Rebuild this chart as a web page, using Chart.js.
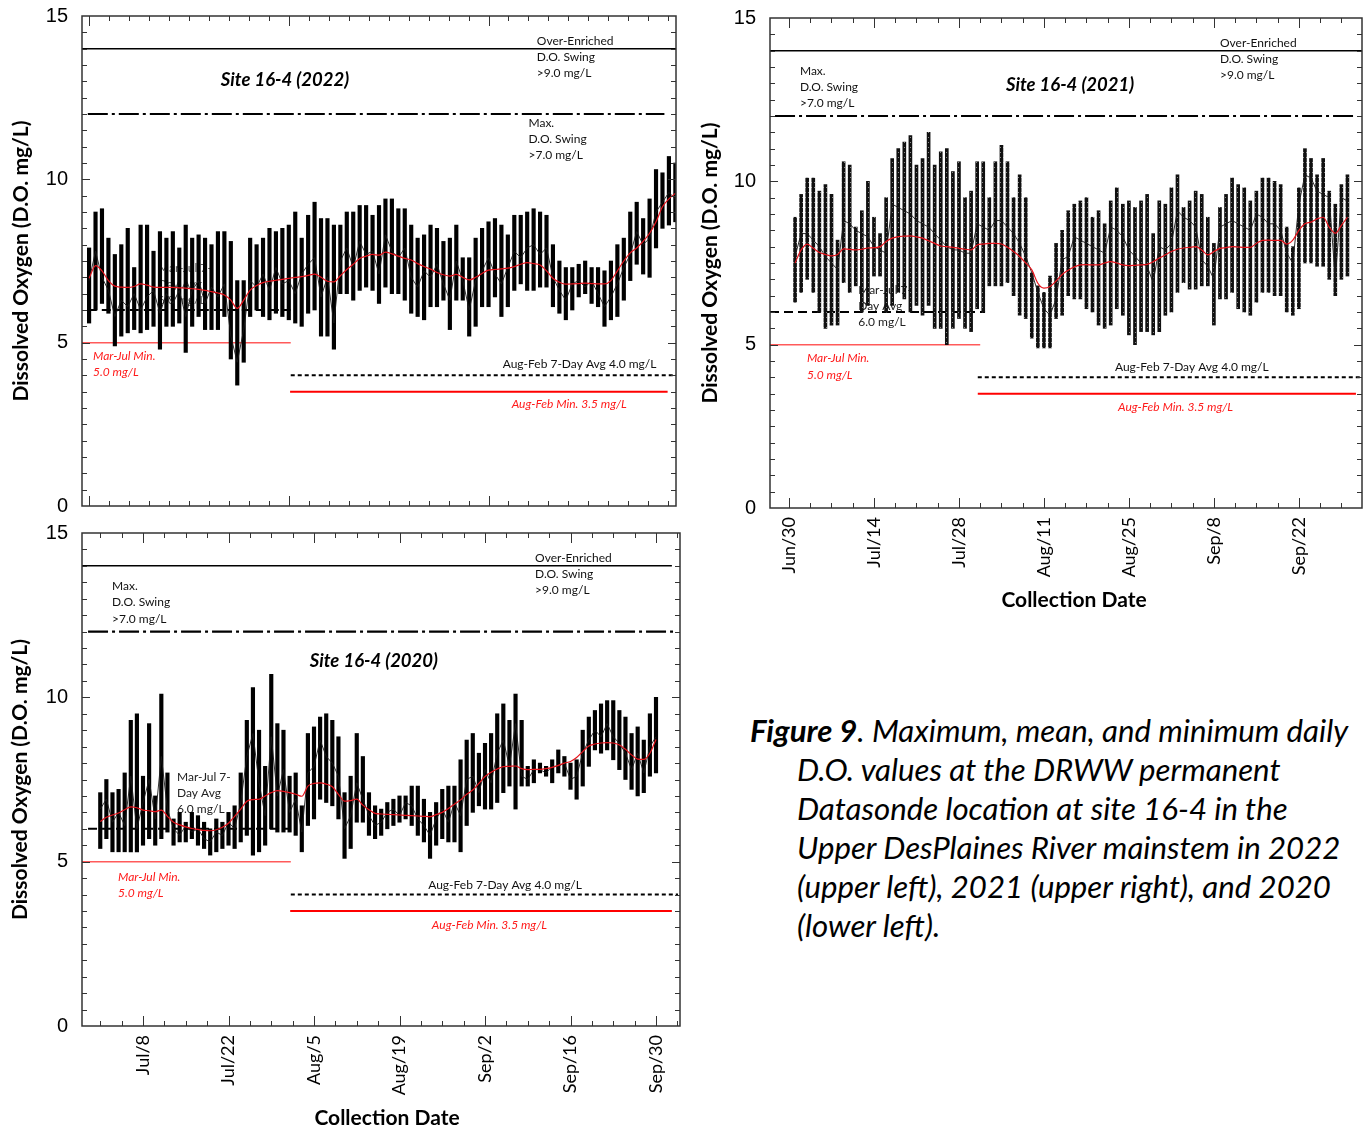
<!DOCTYPE html>
<html>
<head>
<meta charset="utf-8">
<title>Site 16-4 dissolved oxygen</title>
<script src="https://cdn.jsdelivr.net/npm/chart.js@4.4.0/dist/chart.umd.min.js"></script>
<style>
  html, body { margin: 0; padding: 0; background: #fff; }
  body { width: 1369px; height: 1129px; position: relative; overflow: hidden; }
  canvas.panel { position: absolute; }
  #caption {
    position: absolute; left: 750px; top: 711px;
    font-family: Lato, "Open Sans", sans-serif; font-style: italic;
    font-size: 31.2px; line-height: 39px; color: #000; white-space: nowrap;
  }
  #caption .ind { padding-left: 47px; }
</style>
</head>
<body>
<canvas id="c2022" class="panel" width="690" height="522" style="left:0;top:0"></canvas>
<canvas id="c2021" class="panel" width="679" height="620" style="left:690px;top:0"></canvas>
<canvas id="c2020" class="panel" width="690" height="611" style="left:0;top:518px"></canvas>
<div id="caption">
  <div><b>Figure 9</b>. Maximum, mean, and minimum daily</div>
  <div class="ind">D.O. values at the DRWW permanent</div>
  <div class="ind">Datasonde location at site 16-4 in the</div>
  <div class="ind">Upper DesPlaines River mainstem in 2022</div>
  <div class="ind">(upper left), 2021 (upper right), and 2020</div>
  <div class="ind">(lower left).</div>
</div>
<script>
// ---- Daily dissolved oxygen, Jul 1 - Sep 30 (mg/L) ----
const max2022 = [7.9, 9.0, 9.1, 8.2, 7.7, 8.0, 8.5, 7.3, 8.6, 8.6,
  7.8, 8.4, 8.2, 8.4, 7.9, 8.6, 8.2, 8.3, 8.2, 8.0,
  8.4, 8.4, 8.1, 6.9, 6.9, 8.2, 8.0, 8.2, 8.5, 8.4,
  8.5, 8.6, 9.0, 8.2, 8.9, 9.3, 8.8, 8.8, 8.6, 8.6,
  9.0, 9.0, 9.2, 9.2, 8.9, 9.2, 9.4, 9.4, 9.1, 9.1,
  8.6, 8.2, 8.3, 8.6, 8.5, 8.1, 8.2, 8.6, 7.6, 7.6,
  8.2, 8.5, 8.7, 8.8, 8.6, 8.3, 8.9, 8.9, 9.0, 9.1,
  9.0, 8.9, 8.0, 7.5, 7.3, 7.3, 7.4, 7.5, 7.3, 7.3,
  7.2, 7.5, 8.0, 8.2, 9.0, 9.3, 8.8, 9.4, 10.3, 10.2,
  10.7, 10.5];
const min2022 = [5.6, 6.0, 6.2, 5.9, 4.9, 5.2, 5.3, 5.4, 5.3, 5.4,
  5.5, 4.8, 5.5, 5.5, 5.6, 4.7, 5.5, 5.8, 5.4, 5.4,
  5.4, 5.8, 4.5, 3.7, 4.4, 5.8, 6.0, 5.8, 5.7, 5.9,
  5.8, 5.7, 5.6, 5.5, 5.9, 6.0, 5.2, 5.2, 4.8, 6.5,
  6.5, 6.3, 6.6, 6.7, 6.6, 6.2, 6.7, 6.5, 6.5, 6.3,
  5.9, 5.8, 5.7, 6.1, 6.1, 6.3, 5.4, 6.3, 6.3, 5.2,
  5.5, 6.1, 6.1, 6.4, 5.8, 6.1, 6.6, 6.8, 6.6, 6.6,
  6.7, 6.7, 6.1, 5.9, 5.7, 6.0, 6.4, 6.5, 6.2, 6.1,
  5.5, 5.7, 5.8, 6.3, 6.9, 7.4, 7.1, 7.0, 7.9, 8.5,
  8.6, 8.7];
const mean2022 = [6.9, 7.8, 7.0, 6.6, 5.8, 6.3, 6.1, 6.5, 6.0, 6.4,
  6.6, 5.9, 6.5, 6.2, 6.6, 5.8, 6.6, 6.9, 6.2, 6.7,
  6.4, 6.8, 5.2, 4.4, 5.4, 6.9, 6.7, 7.1, 6.6, 7.3,
  6.8, 6.9, 6.5, 7.1, 7.4, 7.6, 6.4, 7.0, 5.6, 7.5,
  7.9, 7.3, 8.1, 7.7, 7.8, 7.1, 8.3, 7.8, 7.6, 7.9,
  7.0, 6.7, 7.2, 7.0, 7.4, 6.8, 6.3, 7.5, 6.9, 6.0,
  6.9, 7.2, 7.6, 7.1, 6.8, 7.3, 7.8, 7.6, 7.9, 8.0,
  7.7, 7.9, 7.0, 6.6, 6.3, 6.8, 6.9, 6.7, 6.9, 6.5,
  6.1, 6.4, 6.8, 7.3, 7.7, 8.4, 8.0, 8.2, 9.0, 9.3,
  9.6, 9.4];
const avg2022 = [6.97, 7.36, 7.20, 6.90, 6.73, 6.70, 6.69, 6.72, 6.80, 6.76,
  6.70, 6.69, 6.69, 6.69, 6.68, 6.67, 6.65, 6.63, 6.60, 6.56,
  6.52, 6.46, 6.30, 6.05, 6.30, 6.61, 6.75, 6.84, 6.88, 6.91,
  6.94, 6.97, 7.00, 7.02, 7.06, 7.10, 7.00, 6.88, 6.86, 7.05,
  7.24, 7.40, 7.58, 7.65, 7.70, 7.68, 7.77, 7.72, 7.65, 7.58,
  7.53, 7.42, 7.33, 7.25, 7.15, 7.08, 7.04, 7.09, 7.00, 6.92,
  7.00, 7.12, 7.22, 7.24, 7.26, 7.28, 7.33, 7.40, 7.45, 7.42,
  7.38, 7.20, 6.97, 6.85, 6.79, 6.80, 6.81, 6.82, 6.81, 6.80,
  6.80, 6.90, 7.20, 7.50, 7.75, 7.90, 8.10, 8.35, 8.70, 9.16,
  9.40, 9.57];

const max2021 = [8.9, 9.6, 10.1, 10.1, 9.7, 9.9, 9.6, 8.2, 10.6, 10.5,
  8.6, 9.1, 10.0, 8.9, 8.4, 9.5, 10.7, 11.0, 11.2, 11.4,
  10.5, 10.7, 11.5, 10.5, 10.9, 11.0, 10.3, 10.6, 9.5, 9.7,
  10.6, 10.6, 9.5, 10.6, 11.1, 10.6, 9.5, 10.2, 9.5, 7.2,
  6.8, 6.6, 7.1, 8.1, 8.5, 9.1, 9.3, 9.4, 9.5, 8.9,
  9.1, 8.7, 9.4, 9.8, 9.3, 9.4, 9.2, 9.4, 9.6, 8.4,
  9.4, 9.3, 9.8, 10.2, 9.2, 9.4, 9.7, 9.6, 8.9, 8.1,
  9.2, 9.6, 10.1, 9.9, 9.8, 9.4, 9.7, 10.1, 10.1, 10.0,
  9.9, 8.6, 8.0, 9.8, 11.0, 10.7, 10.2, 10.7, 9.7, 9.3,
  9.9, 10.2];
const min2021 = [6.3, 6.6, 7.0, 6.6, 6.0, 5.5, 5.6, 5.6, 6.9, 6.6,
  6.8, 6.0, 6.2, 7.1, 7.1, 6.0, 6.2, 6.6, 6.4, 6.0,
  6.2, 5.9, 6.2, 5.5, 5.5, 5.0, 5.5, 5.8, 5.5, 5.4,
  6.1, 6.0, 6.8, 6.8, 6.8, 6.9, 6.5, 5.9, 5.8, 5.2,
  4.9, 4.9, 4.9, 5.8, 5.9, 6.5, 6.4, 6.4, 6.1, 6.0,
  5.6, 5.5, 5.6, 6.1, 5.9, 5.3, 5.0, 5.4, 5.4, 5.3,
  5.4, 5.9, 6.0, 6.6, 6.9, 6.7, 6.7, 6.8, 6.8, 5.6,
  6.4, 6.4, 6.6, 6.1, 6.0, 5.9, 6.3, 6.6, 6.6, 6.5,
  6.5, 6.0, 5.9, 6.1, 7.5, 7.5, 7.4, 7.4, 7.0, 6.5,
  7.0, 7.1];
const mean2021 = [7.7, 8.4, 8.4, 8.2, 8.0, 7.7, 7.5, 7.3, 8.8, 8.7,
  8.5, 8.4, 8.3, 8.0, 7.9, 7.8, 9.3, 9.2, 9.1, 9.0,
  8.8, 8.7, 8.6, 8.4, 8.2, 8.0, 7.9, 7.9, 7.8, 7.8,
  8.7, 8.6, 8.5, 8.8, 8.8, 8.6, 8.4, 8.1, 7.7, 7.2,
  6.6, 6.1, 5.9, 6.4, 7.6, 7.7, 8.3, 8.2, 8.1, 8.0,
  7.9, 7.8, 8.6, 8.5, 8.3, 7.9, 7.7, 7.5, 7.4, 6.9,
  8.0, 7.9, 8.1, 9.1, 8.9, 8.8, 8.6, 7.6, 7.4, 7.0,
  8.6, 8.7, 8.8, 8.7, 8.6, 8.5, 9.0, 8.9, 8.7, 8.7,
  8.5, 7.8, 7.5, 9.3, 10.2, 10.1, 9.7, 9.6, 9.5, 7.0,
  9.5, 9.4];
const avg2021 = [7.50, 7.90, 8.08, 7.95, 7.82, 7.76, 7.72, 7.76, 7.93, 7.92,
  7.90, 7.92, 7.96, 7.97, 8.00, 8.16, 8.26, 8.31, 8.32, 8.33,
  8.30, 8.26, 8.18, 8.10, 8.02, 8.00, 7.98, 7.95, 7.92, 7.90,
  8.05, 8.08, 8.10, 8.10, 8.08, 7.98, 7.85, 7.70, 7.50, 7.29,
  6.88, 6.73, 6.78, 6.95, 7.15, 7.28, 7.38, 7.44, 7.45, 7.44,
  7.44, 7.50, 7.54, 7.50, 7.44, 7.42, 7.43, 7.44, 7.46, 7.54,
  7.65, 7.75, 7.85, 7.92, 7.96, 7.98, 8.00, 7.90, 7.75, 7.85,
  7.95, 7.97, 8.00, 7.99, 7.98, 7.98, 8.10, 8.19, 8.20, 8.19,
  8.19, 8.08, 8.20, 8.50, 8.70, 8.75, 8.85, 8.90, 8.60, 8.41,
  8.65, 8.90];

const max2020 = [7.1, 7.5, 7.1, 7.2, 7.7, 9.3, 9.5, 7.6, 9.2, 7.0,
  10.1, 7.7, 6.3, 6.5, 6.2, 6.5, 6.4, 6.2, 6.0, 6.3,
  6.2, 6.5, 6.7, 7.7, 9.3, 10.3, 9.0, 7.9, 10.7, 9.2,
  9.0, 7.6, 7.7, 6.7, 8.9, 9.1, 9.4, 9.5, 9.3, 8.8,
  7.1, 7.6, 8.9, 8.2, 7.1, 6.7, 6.6, 6.8, 6.9, 7.0,
  7.0, 7.3, 7.3, 6.9, 6.5, 6.8, 7.2, 7.3, 7.3, 8.1,
  8.7, 8.9, 8.3, 8.6, 8.9, 9.5, 9.8, 9.3, 10.1, 9.3,
  7.9, 8.1, 8.0, 7.9, 8.1, 8.4, 8.2, 8.0, 8.1, 9.0,
  9.4, 9.6, 9.8, 9.9, 9.9, 9.6, 9.4, 8.9, 9.1, 8.7,
  9.5, 10.0];
const min2020 = [5.4, 5.7, 5.3, 5.3, 5.3, 5.3, 5.3, 5.5, 5.7, 5.5,
  5.7, 5.9, 5.5, 5.6, 5.6, 5.7, 5.5, 5.4, 5.2, 5.3,
  5.4, 5.5, 5.4, 5.6, 5.8, 5.2, 5.3, 5.5, 6.0, 5.9,
  5.9, 5.9, 5.8, 5.3, 6.1, 6.3, 6.9, 6.8, 6.7, 6.3,
  5.1, 5.4, 6.2, 6.2, 5.8, 5.7, 5.8, 6.0, 6.1, 6.2,
  6.3, 6.1, 5.8, 5.6, 5.1, 5.5, 5.7, 5.6, 5.6, 5.3,
  6.1, 6.5, 6.7, 6.6, 6.6, 6.8, 7.1, 7.3, 6.6, 7.3,
  7.3, 7.4, 7.7, 7.6, 7.4, 7.7, 7.6, 7.2, 6.9, 7.3,
  7.9, 8.4, 8.3, 8.4, 8.1, 7.8, 7.5, 7.2, 7.0, 7.1,
  7.6, 7.7];
const mean2020 = [6.6, 6.9, 6.2, 6.5, 6.1, 7.6, 6.0, 6.8, 7.5, 6.3,
  8.2, 6.6, 6.0, 5.8, 6.1, 5.9, 6.0, 5.7, 5.6, 5.9,
  5.8, 6.2, 6.0, 6.8, 8.2, 8.9, 7.4, 6.4, 8.8, 7.0,
  7.8, 6.5, 6.9, 5.9, 7.7, 7.9, 8.7, 8.2, 8.0, 7.6,
  6.0, 6.4, 7.4, 6.9, 6.4, 6.1, 6.2, 6.5, 6.6, 6.4,
  6.8, 6.7, 6.3, 6.1, 5.8, 6.3, 6.6, 6.2, 6.8, 6.4,
  7.5, 7.6, 7.1, 7.8, 7.4, 8.3, 8.7, 7.9, 9.2, 7.6,
  7.5, 7.8, 7.8, 7.7, 7.9, 7.9, 8.0, 7.5, 7.6, 8.3,
  8.7, 9.0, 8.8, 9.2, 8.8, 8.6, 8.3, 7.8, 8.3, 7.7,
  8.5, 8.8];
const avg2020 = [6.22, 6.35, 6.42, 6.48, 6.58, 6.67, 6.64, 6.57, 6.55, 6.52,
  6.57, 6.38, 6.20, 6.12, 6.06, 6.01, 5.98, 5.95, 5.94, 5.97,
  6.05, 6.17, 6.38, 6.60, 6.84, 6.89, 6.90, 7.00, 7.10, 7.16,
  7.14, 7.10, 7.05, 6.99, 7.30, 7.38, 7.40, 7.36, 7.28, 7.05,
  6.84, 6.86, 6.90, 6.72, 6.58, 6.47, 6.45, 6.44, 6.43, 6.42,
  6.41, 6.40, 6.39, 6.38, 6.37, 6.43, 6.50, 6.62, 6.75, 6.88,
  7.05, 7.18, 7.38, 7.59, 7.72, 7.82, 7.89, 7.90, 7.91, 7.83,
  7.80, 7.81, 7.81, 7.83, 7.87, 7.93, 8.00, 8.05, 8.17, 8.35,
  8.52, 8.58, 8.61, 8.62, 8.61, 8.55, 8.42, 8.25, 8.12, 8.11,
  8.30, 8.72];

// Axis tick labels
const dateLabels2021 = ['Jun/30', 'Jul/14', 'Jul/28', 'Aug/11', 'Aug/25', 'Sep/8', 'Sep/22'];
const dateLabels2020 = ['Jul/8', 'Jul/22', 'Aug/5', 'Aug/19', 'Sep/2', 'Sep/16', 'Sep/30'];
const monthMarks2022 = ['Jul/1', 'Aug/1', 'Sep/1'];
const yLabels = [0, 5, 10, 15];

// Water quality criteria (mg/L)
const overEnriched = 14.0;
const maxSwing = 12.0;
const marJulAvg = 6.0;
const marJulMin = 5.0;
const augFebAvg = 4.0;
const augFebMin = 3.5;

// ---- helpers ----
const monthStart = { Jun: -30, Jul: 0, Aug: 31, Sep: 62, Oct: 92 };
const dayOf = s => { const [m, d] = s.split('/'); return monthStart[m] + Number(d) - 1; };
const seasonDays = max2022.map((_, i) => i);   // day 0 = Jul 1

function tickList(start, step, every, lo, hi) {
  const out = [];
  const k0 = Math.ceil((lo - start) / step - 1e-9);
  const k1 = Math.floor((hi - start) / step + 1e-9);
  for (let k = k0; k <= k1; k++) {
    out.push({ v: start + k * step, major: (((k % every) + every) % every) === 0 });
  }
  return out;
}

// Finely speckled fill for the logger bars (dense sampled points)
function speckle() {
  const c = document.createElement('canvas');
  c.width = 3; c.height = 5;
  const g = c.getContext('2d');
  g.fillStyle = '#111'; g.fillRect(0, 0, 3, 5);
  g.fillStyle = '#8a8a8a'; g.fillRect(1, 2, 1, 1);
  return g.createPattern(c, 'repeat');
}

const FONT = 'Lato, "Open Sans", sans-serif';
const noteFont = '12px ' + FONT;
const redFont = 'italic 12px ' + FONT;
const titleFont = 'bold italic 18.5px ' + FONT;

function notes(site, g) {
  const list = [];
  const add = (text, x, y, font, color, align) => list.push({ text, x, y, font, color, align });
  g.over.forEach((t, i) => add(t, g.overX, g.overY[i], noteFont, '#111', 'left'));
  g.swing.forEach((t, i) => add(t, g.swingX, g.swingY[i], noteFont, '#111', 'left'));
  g.mj.forEach((t, i) => add(t, g.mjX, g.mjY[i], noteFont, g.mjColor, 'left'));
  add('Aug-Feb 7-Day Avg 4.0 mg/L', g.afX, g.afY, noteFont, '#111', 'left');
  add('Mar-Jul Min.', g.mmX, g.mmY[0], redFont, '#ff1a1a', 'left');
  add('5.0 mg/L', g.mmX, g.mmY[1], redFont, '#ff1a1a', 'left');
  add('Aug-Feb Min. 3.5 mg/L', g.amX, g.amY, redFont, '#ff1a1a', 'left');
  add(site, g.tX, g.tY, titleFont, '#000', 'center');
  return list;
}
const overText = ['Over-Enriched', 'D.O. Swing', '>9.0 mg/L'];
const swingText = ['Max.', 'D.O. Swing', '>7.0 mg/L'];
const mjText = ['Mar-Jul 7-', 'Day Avg', '6.0 mg/L'];

// ---- panels ----
const panels = [
  {
    canvas: 'c2022', W: 690, H: 522, plotLeft: 82, plotRight: 676, plotTop: 16, plotBottom: 506,
    xMin: -1.1, xMax: 91.1, showLabels: false, yTitlePad: 9, barColor: '#000', barWidth: 3.5,
    max: max2022, min: min2022, mean: mean2022, avg: avg2022,
    ticks: tickList(dayOf(monthMarks2022[0]), 3.1, 10, -1.1, 91.1),
    refs: { over: [-1.1, 91.1], swing: [-0.2, 89.3], mjAvg: [-0.2, 31.3], mjMin: [-1.1, 31.3], afAvg: [31.3, 91.1], afMin: [31.2, 89.8] },
    notes: notes('Site 16-4 (2022)', {
      over: overText, overX: 69.5, overY: [14.23, 13.74, 13.25],
      swing: swingText, swingX: 68.2, swingY: [11.72, 11.23, 10.74],
      mj: mjText, mjX: 10.7, mjY: [7.28, 6.80, 6.31], mjColor: '#555',
      afX: 64.2, afY: 4.35, mmX: 0.62, mmY: [4.59, 4.10], amX: 65.6, amY: 3.12,
      tX: 30.4, tY: 13.04
    })
  },
  {
    canvas: 'c2021', W: 679, H: 620, plotLeft: 80, plotRight: 672, plotTop: 18, plotBottom: 508,
    xMin: -4.13, xMax: 93.4, showLabels: true, yTitlePad: 8, barColor: speckle(), barWidth: 3,
    max: max2021, min: min2021, mean: mean2021, avg: avg2021,
    labels: dateLabels2021,
    ticks: tickList(dayOf(dateLabels2021[0]), 3.5, 4, -4.13, 93.4),
    xTitle: [384, 600],
    refs: { over: [-4.13, 93.4], swing: [-3.3, 92.4], mjAvg: [-4.13, 31.3], mjMin: [-4.13, 30.5], afAvg: [30.1, 93.4], afMin: [30.1, 92.4] },
    notes: notes('Site 16-4 (2021)', {
      over: overText, overX: 70.0, overY: [14.23, 13.74, 13.25],
      swing: swingText, swingX: 0.8, swingY: [13.38, 12.89, 12.40],
      mj: mjText, mjX: 10.4, mjY: [6.67, 6.18, 5.69], mjColor: '#222',
      afX: 52.7, afY: 4.32, mmX: 1.96, mmY: [4.59, 4.07], amX: 53.2, amY: 3.09,
      tX: 45.3, tY: 12.95
    })
  },
  {
    canvas: 'c2020', W: 690, H: 611, plotLeft: 82, plotRight: 680, plotTop: 15, plotBottom: 508,
    xMin: -2.99, xMax: 94.93, showLabels: true, yTitlePad: 8, barColor: '#000', barWidth: 3.5,
    max: max2020, min: min2020, mean: mean2020, avg: avg2020,
    labels: dateLabels2020,
    ticks: tickList(dayOf(dateLabels2020[0]), 3.5, 4, -2.99, 94.93),
    xTitle: [387, 600],
    refs: { over: [-2.99, 93.6], swing: [-2.0, 94.3], mjAvg: [-2.0, 31.2], mjMin: [-2.99, 31.2], afAvg: [31.2, 94.6], afMin: [31.1, 93.6] },
    notes: notes('Site 16-4 (2020)', {
      over: overText, overX: 71.2, overY: [14.24, 13.75, 13.26],
      swing: swingText, swingX: 1.92, swingY: [13.39, 12.90, 12.38],
      mj: mjText, mjX: 12.57, mjY: [7.58, 7.09, 6.60], mjColor: '#222',
      afX: 53.7, afY: 4.29, mmX: 2.9, mmY: [4.53, 4.05], amX: 54.3, amY: 3.07,
      tX: 44.8, tY: 11.10
    })
  }
];

// Frame, inward tick marks, annotations and axis title
function decorPlugin(p) {
  return {
    id: 'panelDecor',
    beforeDatasetsDraw(chart) {
      const { ctx, scales: { x, y } } = chart;
      ctx.save();
      ctx.textBaseline = 'middle';
      p.notes.forEach(n => {
        ctx.font = n.font;
        ctx.fillStyle = n.color;
        ctx.textAlign = n.align;
        ctx.fillText(n.text, x.getPixelForValue(n.x), y.getPixelForValue(n.y));
      });
      ctx.restore();
    },
    afterDatasetsDraw(chart) {
      const { ctx, chartArea: a, scales: { x, y } } = chart;
      ctx.save();
      ctx.strokeStyle = '#333';
      ctx.lineWidth = 1;
      ctx.beginPath();
      p.ticks.forEach(t => {
        const px = Math.round(x.getPixelForValue(t.v)) + 0.5;
        const len = t.major ? 10 : 5;
        ctx.moveTo(px, a.bottom); ctx.lineTo(px, a.bottom - len);
        ctx.moveTo(px, a.top); ctx.lineTo(px, a.top + len);
      });
      for (let v = 0.5; v < 15; v += 0.5) {
        const py = Math.round(y.getPixelForValue(v)) + 0.5;
        const len = (v % 5 === 0) ? 8 : 5;
        ctx.moveTo(a.left, py); ctx.lineTo(a.left + len, py);
        ctx.moveTo(a.right, py); ctx.lineTo(a.right - len, py);
      }
      ctx.stroke();
      ctx.lineWidth = 1.5;
      ctx.strokeRect(a.left, a.top, a.right - a.left, a.bottom - a.top);
      ctx.restore();
    },
    afterDraw(chart) {
      if (!p.xTitle) return;
      const { ctx } = chart;
      ctx.save();
      ctx.font = 'bold 21px ' + FONT;
      ctx.fillStyle = '#000';
      ctx.textAlign = 'center';
      ctx.textBaseline = 'middle';
      ctx.fillText('Collection Date', p.xTitle[0], p.xTitle[1]);
      ctx.restore();
    }
  };
}

function refLine(label, value, span, color, width, dash) {
  return {
    type: 'line', label,
    data: [{ x: span[0], y: value }, { x: span[1], y: value }],
    borderColor: color, borderWidth: width, borderDash: dash,
    pointRadius: 0, fill: false, order: 3
  };
}

// Keep the plot rectangle exactly where the layout padding puts it
const noScalePadding = s => { s.paddingTop = 0; s.paddingBottom = 0; s.paddingLeft = 0; s.paddingRight = 0; };

panels.forEach(p => {
  const labelDays = (p.labels || []).map(dayOf);
  const datasets = [
    {
      type: 'line', label: '7-day average',
      data: seasonDays.map((d, i) => ({ x: d, y: p.avg[i] })),
      borderColor: '#e8141c', borderWidth: 1.2, pointRadius: 0,
      cubicInterpolationMode: 'monotone', fill: false, order: 0
    },
    {
      type: 'line', label: 'Daily mean',
      data: seasonDays.map((d, i) => ({ x: d, y: p.mean[i] })),
      borderColor: '#1a1a1a', borderWidth: 0.9, pointRadius: 0, tension: 0, fill: false, order: 1
    },
    {
      type: 'bar', label: 'Daily min-max',
      data: seasonDays.map((d, i) => ({ x: d, y: [p.min[i], p.max[i]] })),
      backgroundColor: p.barColor, borderWidth: 0, barThickness: p.barWidth, order: 2
    },
    refLine('Over-enriched swing', overEnriched, p.refs.over, '#000', 1.5, []),
    refLine('Max swing', maxSwing, p.refs.swing, '#000', 2.2, [20, 4, 3, 4]),
    refLine('Mar-Jul 7-day avg', marJulAvg, p.refs.mjAvg, '#000', 2, [9, 5]),
    refLine('Mar-Jul min', marJulMin, p.refs.mjMin, '#ff5a5a', 1.5, []),
    refLine('Aug-Feb 7-day avg', augFebAvg, p.refs.afAvg, '#000', 2, [4, 3]),
    refLine('Aug-Feb min', augFebMin, p.refs.afMin, '#ff0000', 2, [])
  ];

  new Chart(document.getElementById(p.canvas), {
    type: 'bar',
    data: { datasets },
    options: {
      responsive: false,
      animation: false,
      devicePixelRatio: 1,
      layout: { padding: { left: 0, top: p.plotTop, right: p.W - p.plotRight, bottom: 0 } },
      plugins: { legend: { display: false }, tooltip: { enabled: false } },
      scales: {
        x: {
          type: 'linear', min: p.xMin, max: p.xMax, offset: false,
          afterBuildTicks: s => { s.ticks = labelDays.map(v => ({ value: v })); },
          afterFit: s => { s.height = p.H - p.plotBottom; noScalePadding(s); },
          ticks: {
            display: p.showLabels,
            autoSkip: false, minRotation: 90, maxRotation: 90, padding: 9,
            font: { family: FONT, size: 18 }, color: '#000',
            callback: v => { const k = labelDays.indexOf(v); return k >= 0 ? p.labels[k] : ''; }
          },
          grid: { display: false, drawTicks: false },
          border: { display: false }
        },
        y: {
          min: 0, max: 15,
          afterBuildTicks: s => { s.ticks = yLabels.map(v => ({ value: v })); },
          afterFit: s => { s.width = p.plotLeft; noScalePadding(s); },
          ticks: { padding: 14, font: { family: '"Liberation Sans", Arial, sans-serif', size: 20 }, color: '#000' },
          grid: { display: false, drawTicks: false },
          border: { display: false },
          title: {
            display: true, text: 'Dissolved Oxygen (D.O. mg/L)', color: '#000',
            font: { family: FONT, size: 21, weight: 'bold' },
            padding: { top: p.yTitlePad, bottom: 0 }
          }
        }
      }
    },
    plugins: [decorPlugin(p)]
  });
});
</script>
</body>
</html>
